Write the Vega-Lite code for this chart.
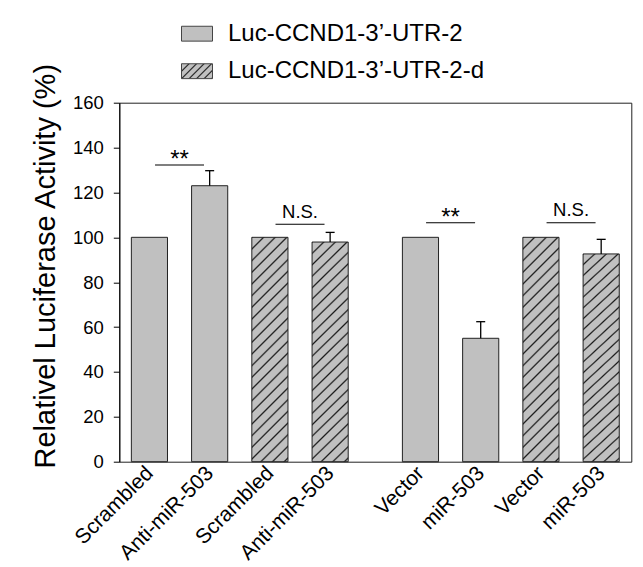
{
  "$schema": "https://vega.github.io/schema/vega-lite/v6.json",
  "width": 512,
  "height": 359,
  "autosize": {"type": "none"},
  "padding": {"left": 119.3, "top": 102.7, "right": 11.7, "bottom": 105.3},
  "background": "white",
  "config": {
    "view": {"stroke": "#222", "strokeWidth": 1},
    "font": "Liberation Sans",
    "axisY": {"values": [0, 20, 40, 60, 80, 100, 120, 140, 160], "grid": false, "domainColor": "black", "tickColor": "black", "tickSize": 6, "tickWidth": 1, "domainWidth": 1, "labelFontSize": 18.5, "labelColor": "black", "labelPadding": 10, "labelFont": "Liberation Sans", "labelFlush": false, "labelOverlap": false, "titleFont": "Liberation Sans", "titleFontSize": 29, "titleFontWeight": "normal", "titleColor": "black", "titleX": -65, "titleY": 163, "titleAngle": 270, "titleAlign": "center", "titleBaseline": "alphabetic"},
    "legend": {"orient": "none", "title": null, "padding": 0, "labelFont": "Liberation Sans", "labelFontSize": 24, "labelColor": "black", "labelOffset": 15, "labelLimit": 0, "symbolType": "M-1,-0.48H1V0.48H-1Z", "symbolSize": 961, "symbolStrokeColor": "#444", "symbolStrokeWidth": 1, "symbolOpacity": 1}
  },
  "datasets": {
    "main": [
      {"exp": "Anti-miR", "cond": "UTR-2 control", "utr": "UTR-2", "construct": "Luc-CCND1-3’-UTR-2", "treatment": "Scrambled", "value": 100},
      {"exp": "Anti-miR", "cond": "UTR-2 treated", "utr": "UTR-2", "construct": "Luc-CCND1-3’-UTR-2", "treatment": "Anti-miR-503", "value": 123.0, "upper": 129.7},
      {"exp": "Anti-miR", "cond": "UTR-2-d control", "utr": "UTR-2-d", "construct": "Luc-CCND1-3’-UTR-2-d", "treatment": "Scrambled", "value": 100},
      {"exp": "Anti-miR", "cond": "UTR-2-d treated", "utr": "UTR-2-d", "construct": "Luc-CCND1-3’-UTR-2-d", "treatment": "Anti-miR-503", "value": 97.9, "upper": 102.2},
      {"exp": "miR", "cond": "UTR-2 control", "utr": "UTR-2", "construct": "Luc-CCND1-3’-UTR-2", "treatment": "Vector", "value": 100},
      {"exp": "miR", "cond": "UTR-2 treated", "utr": "UTR-2", "construct": "Luc-CCND1-3’-UTR-2", "treatment": "miR-503", "value": 55.0, "upper": 62.4},
      {"exp": "miR", "cond": "UTR-2-d control", "utr": "UTR-2-d", "construct": "Luc-CCND1-3’-UTR-2-d", "treatment": "Vector", "value": 100},
      {"exp": "miR", "cond": "UTR-2-d treated", "utr": "UTR-2-d", "construct": "Luc-CCND1-3’-UTR-2-d", "treatment": "miR-503", "value": 92.6, "upper": 99.1}
    ],
    "sig": [
      {"exp": "Anti-miR", "pair": "UTR-2", "y": 132.2, "label": "**"},
      {"exp": "Anti-miR", "pair": "UTR-2-d", "y": 105.8, "label": "N.S."},
      {"exp": "miR", "pair": "UTR-2", "y": 106.5, "label": "**"},
      {"exp": "miR", "pair": "UTR-2-d", "y": 106.5, "label": "N.S."}
    ]
  },
  "data": {"name": "main"},
  "resolve": {"scale": {"xOffset": "independent", "fill": "independent"}, "legend": {"fill": "independent"}},
  "layer": [
    {
      "transform": [{"filter": {"field": "utr", "equal": "UTR-2"}}],
      "mark": {"type": "bar", "stroke": "#222", "strokeWidth": 1, "opacity": 1},
      "encoding": {
        "x": {"field": "exp", "type": "nominal", "scale": {"domain": ["Anti-miR", "miR"], "paddingInner": 0.111, "paddingOuter": 0}, "axis": null},
        "xOffset": {"field": "cond", "type": "nominal", "scale": {"type": "band", "domain": ["UTR-2 control", "UTR-2 treated", "UTR-2-d control", "UTR-2-d treated"], "paddingInner": 0.4, "paddingOuter": 0.2}},
        "y": {"field": "value", "type": "quantitative", "scale": {"domain": [0, 160], "nice": false}, "axis": {"title": "Relativel Luciferase Activity (%)"}},
        "fill": {"field": "construct", "type": "nominal",
          "scale": {"domain": ["Luc-CCND1-3’-UTR-2"], "range": ["#c0c0c0"]},
          "legend": {"legendX": 61.7, "legendY": -85}
        }
      }
    },
    {
      "transform": [{"filter": {"field": "utr", "equal": "UTR-2-d"}}],
      "mark": {"type": "bar", "opacity": 0},
      "encoding": {
        "x": {"field": "exp", "type": "nominal", "axis": null},
        "xOffset": {"field": "cond", "type": "nominal", "scale": {"type": "band", "domain": ["UTR-2 control", "UTR-2 treated", "UTR-2-d control", "UTR-2-d treated"], "paddingInner": 0.4, "paddingOuter": 0.2}},
        "y": {"field": "value", "type": "quantitative"},
        "fill": {"field": "construct", "type": "nominal",
          "scale": {"domain": ["Luc-CCND1-3’-UTR-2-d"], "range": [{"expr": "{gradient:'linear',x1:0,y1:0,x2:1.966,y2:0.944,stops:[{offset:0,color:'#1a1a1a'},{offset:0.02,color:'#c0c0c0'},{offset:0.08,color:'#c0c0c0'},{offset:0.1,color:'#1a1a1a'},{offset:0.12,color:'#c0c0c0'},{offset:0.18,color:'#c0c0c0'},{offset:0.2,color:'#1a1a1a'},{offset:0.22,color:'#c0c0c0'},{offset:0.28,color:'#c0c0c0'},{offset:0.3,color:'#1a1a1a'},{offset:0.32,color:'#c0c0c0'},{offset:0.38,color:'#c0c0c0'},{offset:0.4,color:'#1a1a1a'},{offset:0.42,color:'#c0c0c0'},{offset:0.48,color:'#c0c0c0'},{offset:0.5,color:'#1a1a1a'},{offset:0.52,color:'#c0c0c0'},{offset:0.58,color:'#c0c0c0'},{offset:0.6,color:'#1a1a1a'},{offset:0.62,color:'#c0c0c0'},{offset:1,color:'#c0c0c0'}]}"}]},
          "legend": {"legendX": 61.7, "legendY": -47.5}
        }
      }
    },
    {
      "transform": [{"filter": {"field": "utr", "equal": "UTR-2-d"}}],
      "mark": {"type": "bar", "stroke": "#222", "strokeWidth": 1,
        "fill": {"gradient": "linear", "x1": 0, "y1": 0, "x2": 0.2042, "y2": 1.2675, "stops": [
          {"offset": 0, "color": "#1a1a1a"}, {"offset": 0.006, "color": "#c0c0c0"},
          {"offset": 0.034, "color": "#c0c0c0"}, {"offset": 0.04, "color": "#1a1a1a"}, {"offset": 0.046, "color": "#c0c0c0"},
          {"offset": 0.074, "color": "#c0c0c0"}, {"offset": 0.08, "color": "#1a1a1a"}, {"offset": 0.086, "color": "#c0c0c0"},
          {"offset": 0.114, "color": "#c0c0c0"}, {"offset": 0.12, "color": "#1a1a1a"}, {"offset": 0.126, "color": "#c0c0c0"},
          {"offset": 0.154, "color": "#c0c0c0"}, {"offset": 0.16, "color": "#1a1a1a"}, {"offset": 0.166, "color": "#c0c0c0"},
          {"offset": 0.194, "color": "#c0c0c0"}, {"offset": 0.2, "color": "#1a1a1a"}, {"offset": 0.206, "color": "#c0c0c0"},
          {"offset": 0.234, "color": "#c0c0c0"}, {"offset": 0.24, "color": "#1a1a1a"}, {"offset": 0.246, "color": "#c0c0c0"},
          {"offset": 0.274, "color": "#c0c0c0"}, {"offset": 0.28, "color": "#1a1a1a"}, {"offset": 0.286, "color": "#c0c0c0"},
          {"offset": 0.314, "color": "#c0c0c0"}, {"offset": 0.32, "color": "#1a1a1a"}, {"offset": 0.326, "color": "#c0c0c0"},
          {"offset": 0.354, "color": "#c0c0c0"}, {"offset": 0.36, "color": "#1a1a1a"}, {"offset": 0.366, "color": "#c0c0c0"},
          {"offset": 0.394, "color": "#c0c0c0"}, {"offset": 0.4, "color": "#1a1a1a"}, {"offset": 0.406, "color": "#c0c0c0"},
          {"offset": 0.434, "color": "#c0c0c0"}, {"offset": 0.44, "color": "#1a1a1a"}, {"offset": 0.446, "color": "#c0c0c0"},
          {"offset": 0.474, "color": "#c0c0c0"}, {"offset": 0.48, "color": "#1a1a1a"}, {"offset": 0.486, "color": "#c0c0c0"},
          {"offset": 0.514, "color": "#c0c0c0"}, {"offset": 0.52, "color": "#1a1a1a"}, {"offset": 0.526, "color": "#c0c0c0"},
          {"offset": 0.554, "color": "#c0c0c0"}, {"offset": 0.56, "color": "#1a1a1a"}, {"offset": 0.566, "color": "#c0c0c0"},
          {"offset": 0.594, "color": "#c0c0c0"}, {"offset": 0.6, "color": "#1a1a1a"}, {"offset": 0.606, "color": "#c0c0c0"},
          {"offset": 0.634, "color": "#c0c0c0"}, {"offset": 0.64, "color": "#1a1a1a"}, {"offset": 0.646, "color": "#c0c0c0"},
          {"offset": 0.674, "color": "#c0c0c0"}, {"offset": 0.68, "color": "#1a1a1a"}, {"offset": 0.686, "color": "#c0c0c0"},
          {"offset": 0.714, "color": "#c0c0c0"}, {"offset": 0.72, "color": "#1a1a1a"}, {"offset": 0.726, "color": "#c0c0c0"},
          {"offset": 0.754, "color": "#c0c0c0"}, {"offset": 0.76, "color": "#1a1a1a"}, {"offset": 0.766, "color": "#c0c0c0"},
          {"offset": 0.794, "color": "#c0c0c0"}, {"offset": 0.8, "color": "#1a1a1a"}, {"offset": 0.806, "color": "#c0c0c0"},
          {"offset": 0.834, "color": "#c0c0c0"}, {"offset": 0.84, "color": "#1a1a1a"}, {"offset": 0.846, "color": "#c0c0c0"},
          {"offset": 0.874, "color": "#c0c0c0"}, {"offset": 0.88, "color": "#1a1a1a"}, {"offset": 0.886, "color": "#c0c0c0"},
          {"offset": 1, "color": "#c0c0c0"}
        ]}},
      "encoding": {
        "x": {"field": "exp", "type": "nominal", "axis": null},
        "xOffset": {"field": "cond", "type": "nominal", "scale": {"type": "band", "domain": ["UTR-2 control", "UTR-2 treated", "UTR-2-d control", "UTR-2-d treated"], "paddingInner": 0.4, "paddingOuter": 0.2}},
        "y": {"field": "value", "type": "quantitative"}
      }
    },
    {
      "transform": [{"filter": "isValid(datum.upper)"}],
      "mark": {"type": "rule", "color": "black", "strokeWidth": 1.3},
      "encoding": {
        "x": {"field": "exp", "type": "nominal", "axis": null},
        "xOffset": {"field": "cond", "type": "nominal", "scale": {"type": "band", "domain": ["UTR-2 control", "UTR-2 treated", "UTR-2-d control", "UTR-2-d treated"], "paddingInner": 0.4, "paddingOuter": 0.2}},
        "y": {"field": "value", "type": "quantitative"},
        "y2": {"field": "upper"}
      }
    },
    {
      "transform": [{"filter": "isValid(datum.upper)"}],
      "mark": {"type": "tick", "orient": "horizontal", "color": "black", "size": 9, "thickness": 1.3, "opacity": 1},
      "encoding": {
        "x": {"field": "exp", "type": "nominal", "axis": null},
        "xOffset": {"field": "cond", "type": "nominal", "scale": {"type": "band", "domain": ["UTR-2 control", "UTR-2 treated", "UTR-2-d control", "UTR-2-d treated"], "paddingInner": 0.4, "paddingOuter": 0.2}},
        "y": {"field": "upper", "type": "quantitative"}
      }
    },
    {
      "data": {"name": "sig"},
      "mark": {"type": "tick", "orient": "horizontal", "color": "black", "size": 49, "thickness": 1, "opacity": 1},
      "encoding": {
        "x": {"field": "exp", "type": "nominal", "axis": null},
        "xOffset": {"field": "pair", "type": "nominal", "scale": {"type": "band", "domain": ["UTR-2", "UTR-2-d"], "paddingInner": 0, "paddingOuter": 0}},
        "y": {"field": "y", "type": "quantitative"}
      }
    },
    {
      "data": {"name": "sig"},
      "transform": [{"filter": {"field": "label", "equal": "**"}}],
      "mark": {"type": "text", "font": "Liberation Sans", "fontSize": 24, "color": "black", "baseline": "alphabetic", "align": "center", "dy": 2},
      "encoding": {
        "x": {"field": "exp", "type": "nominal", "axis": null},
        "xOffset": {"field": "pair", "type": "nominal", "scale": {"type": "band", "domain": ["UTR-2", "UTR-2-d"], "paddingInner": 0, "paddingOuter": 0}},
        "y": {"field": "y", "type": "quantitative"},
        "text": {"field": "label"}
      }
    },
    {
      "data": {"name": "sig"},
      "transform": [{"filter": {"field": "label", "equal": "N.S."}}],
      "mark": {"type": "text", "font": "Liberation Sans", "fontSize": 18.5, "color": "black", "baseline": "alphabetic", "align": "center", "dy": -6.5},
      "encoding": {
        "x": {"field": "exp", "type": "nominal", "axis": null},
        "xOffset": {"field": "pair", "type": "nominal", "scale": {"type": "band", "domain": ["UTR-2", "UTR-2-d"], "paddingInner": 0, "paddingOuter": 0}},
        "y": {"field": "y", "type": "quantitative"},
        "text": {"field": "label"}
      }
    },
    {
      "mark": {"type": "text", "font": "Liberation Sans", "fontSize": 21, "color": "black", "angle": 315, "align": "right", "baseline": "middle", "dx": -5.6, "dy": 6.4},
      "encoding": {
        "x": {"field": "exp", "type": "nominal", "axis": null},
        "xOffset": {"field": "cond", "type": "nominal", "scale": {"type": "band", "domain": ["UTR-2 control", "UTR-2 treated", "UTR-2-d control", "UTR-2-d treated"], "paddingInner": 0.4, "paddingOuter": 0.2}},
        "y": {"datum": 0, "type": "quantitative"},
        "text": {"field": "treatment"}
      }
    }
  ]
}
